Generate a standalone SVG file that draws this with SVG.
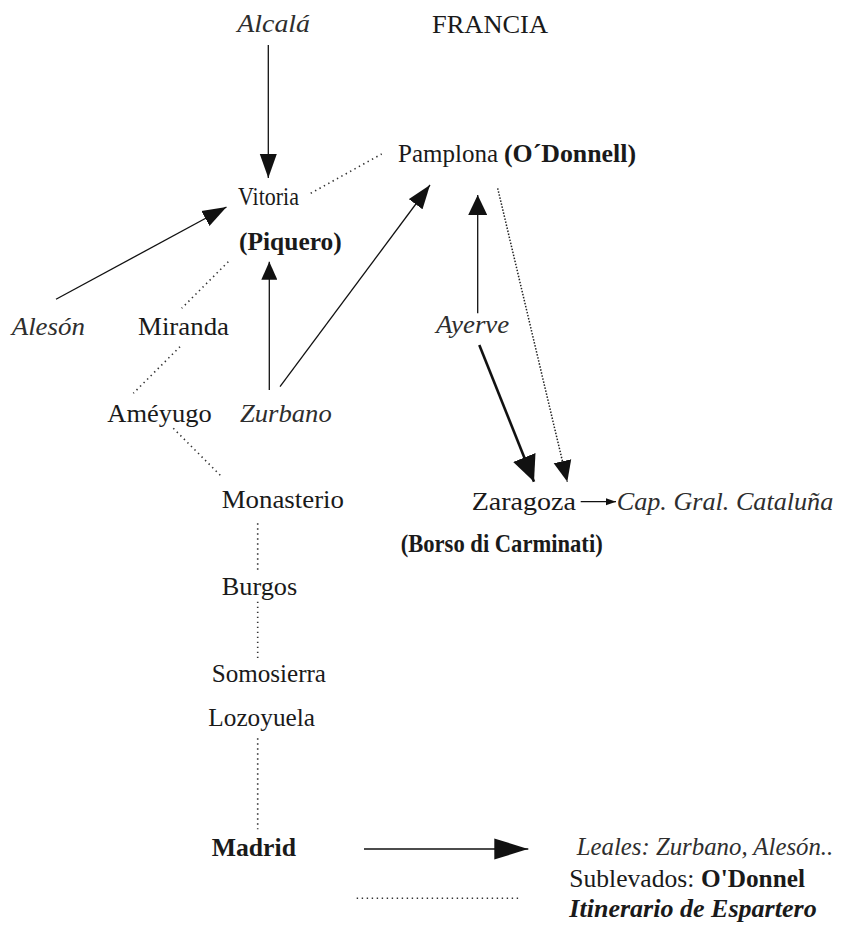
<svg xmlns="http://www.w3.org/2000/svg" width="841" height="929" viewBox="0 0 841 929">
<style>
text{font-family:"Liberation Serif","Times New Roman",serif;font-size:25px;fill:#1a1a1a}
.i{font-style:italic;fill:#2e2e2e}
.b{font-weight:bold}
.bi{font-weight:bold;font-style:italic}
.ln{stroke:#111;stroke-width:1.3;fill:none}
.thick{stroke:#111;stroke-width:2.6;fill:none}
.dot{stroke:#333;stroke-width:1.6;fill:none;stroke-dasharray:1.4 3.6}
.dotd{stroke:#222;stroke-width:1.5;fill:none;stroke-dasharray:1.5 1.6}
</style>
<defs>
<marker id="aM" markerUnits="userSpaceOnUse" markerWidth="24" markerHeight="18" refX="24" refY="9" orient="auto"><path d="M0,0.5 L24,9 L0,17.5 z" fill="#111"/></marker>
<marker id="aS" markerUnits="userSpaceOnUse" markerWidth="20" markerHeight="19" refX="20" refY="9.5" orient="auto"><path d="M0,0 L20,9.5 L0,19 z" fill="#111"/></marker>
<marker id="aZ" markerUnits="userSpaceOnUse" markerWidth="18" markerHeight="16" refX="18" refY="8" orient="auto"><path d="M0,0 L18,8 L0,16 z" fill="#111"/></marker>
<marker id="aB" markerUnits="userSpaceOnUse" markerWidth="26" markerHeight="25" refX="26" refY="12.5" orient="auto"><path d="M0,0.5 L26,12.5 L0,24.5 z" fill="#111"/></marker>
<marker id="aD" markerUnits="userSpaceOnUse" markerWidth="21" markerHeight="19" refX="21" refY="9.5" orient="auto"><path d="M0,0.5 L21,9.5 L0,18.5 z" fill="#111"/></marker>
<marker id="aT" markerUnits="userSpaceOnUse" markerWidth="10" markerHeight="8" refX="10" refY="4" orient="auto"><path d="M0,0.5 L10,4 L0,7.5 z" fill="#111"/></marker>
<marker id="aL" markerUnits="userSpaceOnUse" markerWidth="34" markerHeight="22" refX="34" refY="11" orient="auto"><path d="M0,0.5 L34,11 L0,21.5 z" fill="#111"/></marker>
</defs>

<g id="connectors">
<line class="ln" x1="268.3" y1="45" x2="268.3" y2="178" marker-end="url(#aM)"/>
<line class="ln" x1="56" y1="299.3" x2="226.5" y2="207" marker-end="url(#aM)"/>
<line class="ln" x1="269.3" y1="390" x2="269.3" y2="261.7" marker-end="url(#aZ)"/>
<line class="ln" x1="280" y1="386.7" x2="430" y2="185" marker-end="url(#aM)"/>
<line class="ln" x1="477.7" y1="313.3" x2="477.7" y2="195" marker-end="url(#aS)"/>
<line class="thick" x1="479.3" y1="345" x2="534" y2="481.7" marker-end="url(#aB)"/>
<line class="dotd" x1="497.7" y1="188.3" x2="567.3" y2="481.7" marker-end="url(#aD)"/>
<line class="ln" x1="580.7" y1="501.7" x2="616" y2="501.7" marker-end="url(#aT)"/>
<line class="dot" x1="310.7" y1="193.3" x2="381.7" y2="154"/>
<line class="dot" x1="228.3" y1="261.7" x2="181.7" y2="308.3"/>
<line class="dot" x1="180" y1="346.7" x2="133.3" y2="393.3"/>
<line class="dot" x1="173.3" y1="428.3" x2="221.7" y2="476.7"/>
<line class="dot" x1="257.7" y1="523.3" x2="257.7" y2="570"/>
<line class="dot" x1="257.7" y1="601.7" x2="257.7" y2="660"/>
<line class="dot" x1="257.7" y1="738.3" x2="257.7" y2="829.3"/>
<line class="ln" x1="364" y1="849" x2="528.3" y2="849" stroke-width="1.6" marker-end="url(#aL)"/>
<line class="dot" x1="356.7" y1="898.3" x2="521.7" y2="898.3"/>
</g>

<g id="alcala"><text class="i" x="237.3" y="31.7" textLength="72.7" lengthAdjust="spacingAndGlyphs">Alcalá</text></g>
<g id="francia"><text x="432" y="32.7" font-size="26" textLength="116" lengthAdjust="spacingAndGlyphs">FRANCIA</text></g>
<g id="pamplona"><text y="162.3" font-size="26"><tspan x="398" textLength="100" lengthAdjust="spacingAndGlyphs">Pamplona</tspan><tspan class="b" x="504" textLength="132" lengthAdjust="spacingAndGlyphs">(O´Donnell)</tspan></text></g>
<g id="vitoria"><text x="238" y="205" font-size="27" textLength="61" lengthAdjust="spacingAndGlyphs">Vitoria</text></g>
<g id="piquero"><text class="b" x="239" y="250" font-size="26" textLength="102.7" lengthAdjust="spacingAndGlyphs">(Piquero)</text></g>
<g id="aleson"><text class="i" x="11.7" y="335" textLength="73.3" lengthAdjust="spacingAndGlyphs">Alesón</text></g>
<g id="miranda"><text x="138" y="335" textLength="91" lengthAdjust="spacingAndGlyphs">Miranda</text></g>
<g id="ameyugo"><text x="107.3" y="421.7" textLength="104.4" lengthAdjust="spacingAndGlyphs">Améyugo</text></g>
<g id="zurbano"><text class="i" x="240" y="421.7" textLength="91.7" lengthAdjust="spacingAndGlyphs">Zurbano</text></g>
<g id="ayerve"><text class="i" x="436" y="333.3" textLength="73.3" lengthAdjust="spacingAndGlyphs">Ayerve</text></g>
<g id="monasterio"><text x="221.7" y="508.3" textLength="122.3" lengthAdjust="spacingAndGlyphs">Monasterio</text></g>
<g id="zaragoza"><text x="471.7" y="510" textLength="104.3" lengthAdjust="spacingAndGlyphs">Zaragoza</text></g>
<g id="cataluna"><text class="i" x="616.7" y="510" textLength="216.6" lengthAdjust="spacingAndGlyphs">Cap. Gral. Cataluña</text></g>
<g id="borso"><text class="b" x="400.7" y="551.7" textLength="202" lengthAdjust="spacingAndGlyphs">(Borso di Carminati)</text></g>
<g id="burgos"><text x="221.7" y="595" textLength="75.6" lengthAdjust="spacingAndGlyphs">Burgos</text></g>
<g id="somosierra"><text x="211.7" y="681.7" textLength="114.3" lengthAdjust="spacingAndGlyphs">Somosierra</text></g>
<g id="lozoyuela"><text x="208.3" y="726" textLength="106.7" lengthAdjust="spacingAndGlyphs">Lozoyuela</text></g>
<g id="madrid"><text class="b" x="211.7" y="856" font-size="27" textLength="84.3" lengthAdjust="spacingAndGlyphs">Madrid</text></g>
<g id="legend">
<text class="i" x="576.7" y="855" textLength="256.6" lengthAdjust="spacingAndGlyphs">Leales: Zurbano, Alesón..</text>
<text y="886.7" font-size="26"><tspan x="569.3" textLength="125" lengthAdjust="spacingAndGlyphs">Sublevados:</tspan><tspan class="b" x="701" textLength="104" lengthAdjust="spacingAndGlyphs">O'Donnel</tspan></text>
<text class="bi" x="569.3" y="916.7" font-size="26" textLength="247.4" lengthAdjust="spacingAndGlyphs">Itinerario de Espartero</text>
</g>
</svg>
